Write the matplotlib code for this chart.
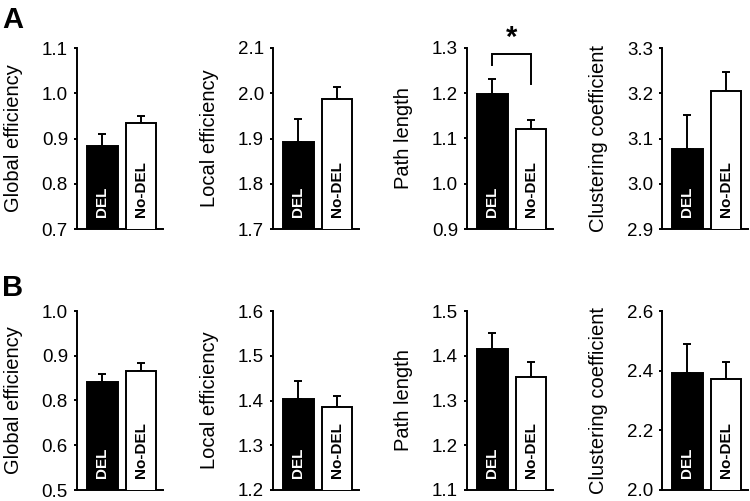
import matplotlib
matplotlib.use('Agg')
import matplotlib.pyplot as plt
import matplotlib.transforms as mtransforms

plt.rcParams['font.family'] = ['Liberation Sans', 'DejaVu Sans']

groups = ['DEL', 'No-DEL']
measures = ['Global efficiency', 'Local efficiency', 'Path length', 'Clustering coefficient']

# panel A
del_a = [0.884, 1.893, 1.198, 3.077]
del_a_err = [0.027, 0.050, 0.033, 0.075]
nodel_a = [0.935, 1.988, 1.122, 3.205]
nodel_a_err = [0.015, 0.025, 0.018, 0.041]
ticks_a = [[0.7, 0.8, 0.9, 1.0, 1.1],
           [1.7, 1.8, 1.9, 2.0, 2.1],
           [0.9, 1.0, 1.1, 1.2, 1.3],
           [2.9, 3.0, 3.1, 3.2, 3.3]]
ticklabels_a = [['0.7', '0.8', '0.9', '1.0', '1.1'],
                ['1.7', '1.8', '1.9', '2.0', '2.1'],
                ['0.9', '1.0', '1.1', '1.2', '1.3'],
                ['2.9', '3.0', '3.1', '3.2', '3.3']]

# panel B
del_b = [0.842, 1.403, 1.415, 2.391]
del_b_err = [0.018, 0.041, 0.035, 0.097]
nodel_b = [0.865, 1.386, 1.353, 2.372]
nodel_b_err = [0.018, 0.023, 0.034, 0.058]
ticks_b = [[0.6, 0.7, 0.8, 0.9, 1.0],
           [1.2, 1.3, 1.4, 1.5, 1.6],
           [1.1, 1.2, 1.3, 1.4, 1.5],
           [2.0, 2.2, 2.4, 2.6]]
ticklabels_b = [['0.5', '0.6', '0.8', '0.9', '1.0'],
                ['1.2', '1.3', '1.4', '1.5', '1.6'],
                ['1.1', '1.2', '1.3', '1.4', '1.5'],
                ['2.0', '2.2', '2.4', '2.6']]

W, H = 750, 501
fig = plt.figure(figsize=(7.5, 5.01), dpi=100)

lefts_px = [77, 273, 467, 662]
width_px = 86
rows = {'A': (48, 229), 'B': (311, 490)}
lw = 1.4


def draw_bars(ax, d, de, n, ne, ticks, labels, ylabel):
    x = [0, 1]
    vals = [d, n]
    errs = [de, ne]
    ax.bar(x, vals, width=0.8, color=['black', 'white'], edgecolor='black',
           linewidth=lw, zorder=3)
    ax.errorbar(x, vals, yerr=[[0, 0], errs], fmt='none', ecolor='black',
                elinewidth=lw, capsize=2.8, capthick=lw, zorder=2)
    ax.set_xlim(-0.66, 1.57)
    ax.set_ylim(ticks[0], ticks[-1])
    ax.set_yticks(ticks)
    ax.set_yticklabels(labels)
    ax.set_xticks([])
    for s in ['top', 'right']:
        ax.spines[s].set_visible(False)
    for s in ['left', 'bottom']:
        ax.spines[s].set_linewidth(lw)
    ax.tick_params(axis='y', direction='out', length=2.5, width=lw,
                   labelsize=13.5, pad=4)
    ax.set_ylabel(ylabel, fontsize=14.5)
    ax.yaxis.set_label_coords(-0.63, 0.5)
    trans = mtransforms.blended_transform_factory(ax.transData, ax.transAxes)
    ax.text(0, 0.066, groups[0], color='white', fontsize=11, fontweight='bold',
            rotation=90, ha='center', va='bottom', transform=trans, zorder=5)
    ax.text(1, 0.066, groups[1], color='black', fontsize=11, fontweight='bold',
            rotation=90, ha='center', va='bottom', transform=trans, zorder=5)


axes = {}
for row, (top, bot) in rows.items():
    data = (del_a, del_a_err, nodel_a, nodel_a_err, ticks_a, ticklabels_a) if row == 'A' \
        else (del_b, del_b_err, nodel_b, nodel_b_err, ticks_b, ticklabels_b)
    for i in range(4):
        ax = fig.add_axes([lefts_px[i] / W, 1 - bot / H, width_px / W, (bot - top) / H])
        draw_bars(ax, data[0][i], data[1][i], data[2][i], data[3][i],
                  data[4][i], data[5][i], measures[i])
        axes[(row, i)] = ax

# significance bracket on path length (panel A)
ax = axes[('A', 2)]
ax.plot([0, 0, 1, 1], [1.262, 1.286, 1.286, 1.220], color='black', lw=lw,
        clip_on=False, solid_joinstyle='miter')
ax.text(0.5, 1.291, '*', fontsize=21, fontweight='bold', ha='center', va='bottom')

fig.text(0.003, 0.988, 'A', fontsize=21, fontweight='bold', va='top', ha='left')
fig.text(0.003, 0.454, 'B', fontsize=21, fontweight='bold', va='top', ha='left')

fig.savefig('out.png', dpi=100)
